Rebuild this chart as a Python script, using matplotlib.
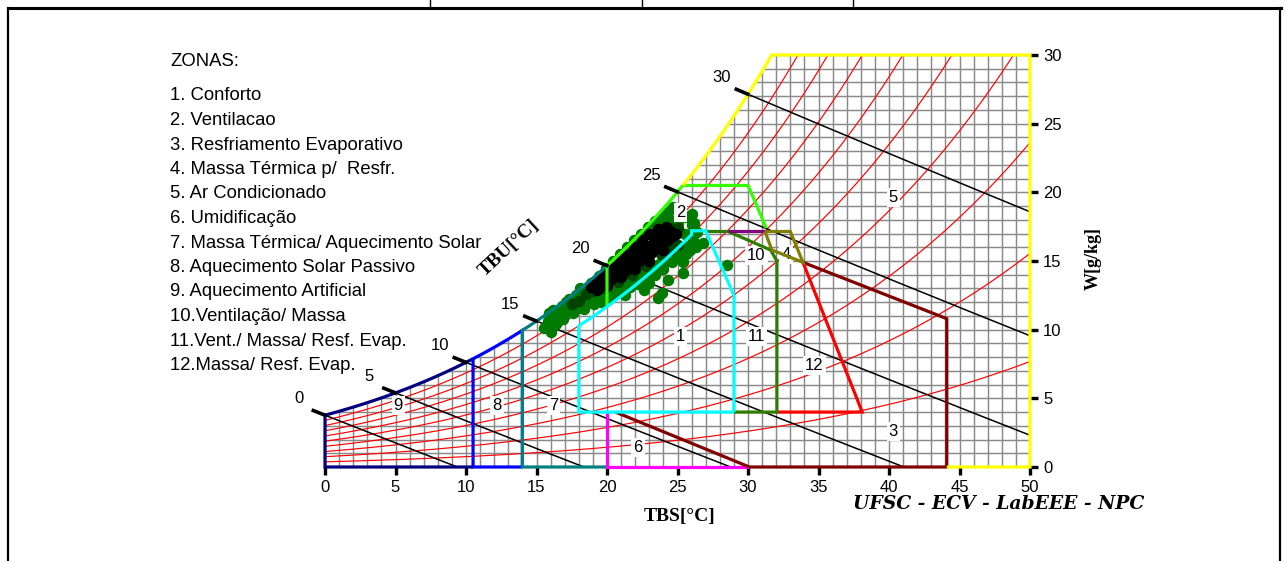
import numpy as np
import matplotlib
matplotlib.use("Agg")
import matplotlib.pyplot as plt
from matplotlib.lines import Line2D

# ---------------------------------------------------------------- data
x_ticks = [0, 5, 10, 15, 20, 25, 30, 35, 40, 45, 50]
y_ticks = [0, 5, 10, 15, 20, 25, 30]
rh_levels = [0.1, 0.2, 0.3, 0.4, 0.5, 0.6, 0.7, 0.8, 0.9]
wb_levels = [0, 5, 10, 15, 20, 25, 30]

zone_names = [
    "1. Conforto",
    "2. Ventilacao",
    "3. Resfriamento Evaporativo",
    "4. Massa Térmica p/  Resfr.",
    "5. Ar Condicionado",
    "6. Umidificação",
    "7. Massa Térmica/ Aquecimento Solar",
    "8. Aquecimento Solar Passivo",
    "9. Aquecimento Artificial",
    "10.Ventilação/ Massa",
    "11.Vent./ Massa/ Resf. Evap.",
    "12.Massa/ Resf. Evap.",
]

# zone number tags (TBS, W)
tag_text = ["1", "2", "3", "4", "5", "6", "7", "8", "9", "10", "11", "12"]
tag_t = [25.2, 25.2, 40.3, 32.7, 40.3, 22.2, 16.2, 12.2, 5.2, 30.6, 30.6, 34.7]
tag_w = [9.5, 18.5, 2.55, 15.5, 19.6, 1.4, 4.5, 4.5, 4.5, 15.4, 9.5, 7.4]

# zone boundary vertices (TBS degC, W g/kg)
z1_t = [29.0, 18.0, 18.0]
z1_w = [4.0, 4.0, 10.3]
z1_top_t = [26.0, 27.0, 29.0, 29.0]
z1_top_w = [17.2, 17.2, 12.5, 4.0]
z2_w_flat = 20.5
z2_t = [30.0, 31.3]
z2_w = [20.5, 17.4]
z3_t = [20.6, 30.1, 44.1, 44.1, 33.9]
z3_w = [4.0, 0.0, 0.0, 10.8, 14.9]
z4_t = [31.2, 31.7, 33.9, 33.0, 31.2]
z4_w = [17.15, 15.8, 14.9, 17.15, 17.15]
z6_t = [20.0, 20.0, 30.1]
z6_w = [4.0, 0.0, 0.0]
z10_t = [27.0, 28.6, 31.6, 32.05, 32.05, 29.0]
z10_w = [17.15, 17.15, 15.8, 15.0, 4.0, 4.0]
purple_t = [28.6, 31.2]
purple_w = [17.15, 17.15]
z12_t = [32.05, 38.1, 33.9]
z12_w = [4.0, 4.0, 14.9]

# measured hours (TBS, W)
green_t = [15.5, 15.8, 16.1, 16.3, 16.0, 16.6, 16.9, 17.3, 17.6, 17.1, 17.9, 18.2,
           18.4, 18.8, 18.6, 19.1, 19.4, 19.8, 20.1, 20.4, 20.7, 21.0, 21.3, 21.6,
           21.9, 22.2, 22.5, 22.8, 23.1, 23.4, 23.7, 24.0, 24.3, 24.6, 24.9, 25.2,
           25.5, 25.8, 26.1, 26.4, 26.0, 25.6, 26.0, 25.1, 24.7, 24.3, 23.9, 23.4,
           22.9, 22.4, 21.9, 21.4, 20.9, 20.4, 19.9, 19.4, 18.9, 18.3, 17.8, 17.3,
           16.8, 23.6, 23.9, 23.0, 25.4, 25.4, 25.2, 25.9, 26.8, 28.5, 24.3, 22.6,
           21.3, 26.0, 25.0, 24.5, 15.9, 16.4,
           15.7, 16.5, 17.0, 17.5, 18.0, 18.5, 19.0, 19.6, 20.2, 20.9, 21.7, 22.4,
           23.2, 24.1, 24.8, 25.6, 26.3, 24.6, 25.5, 26.2, 25.3, 23.8, 22.0, 20.0,
           17.0, 16.2, 18.1]
green_w = [10.1, 10.6, 10.2, 10.9, 9.8, 11.3, 10.8, 11.6, 11.2, 12.0, 11.8, 12.4,
           11.5, 12.2, 12.9, 11.9, 12.6, 12.3, 12.9, 12.5, 13.2, 12.8, 13.5, 13.1,
           13.8, 13.3, 14.1, 13.6, 14.4, 14.0, 14.8, 14.4, 15.2, 14.9, 15.6, 15.3,
           16.1, 15.8, 16.5, 17.1, 17.6, 18.2, 18.4, 18.8, 18.9, 18.6, 18.3, 17.9,
           17.5, 17.0, 16.5, 16.0, 15.5, 15.0, 14.5, 13.9, 13.4, 12.9, 12.5, 12.2,
           11.7, 12.3, 12.7, 13.4, 14.1, 14.9, 15.8, 15.8, 16.3, 14.7, 13.6, 12.9,
           12.5, 17.0, 17.8, 18.0, 11.2, 10.4,
           10.3, 10.6, 11.1, 11.4, 11.6, 11.9, 12.3, 12.0, 12.6, 13.0, 13.4, 13.8,
           14.2, 14.9, 15.2, 15.5, 16.0, 16.3, 17.0, 17.8, 18.4, 17.8, 14.3, 12.2,
           11.5, 11.4, 13.0]
mid_t = [17.5, 18.0, 18.5, 19.0, 19.5, 20.0, 20.5, 21.0, 21.5, 22.0, 22.5, 23.0,
         23.5, 24.0, 24.5, 25.0, 25.0, 24.5, 23.8, 22.8, 21.8, 20.8, 19.8]
mid_w = [11.9, 12.1, 12.6, 12.8, 13.4, 13.8, 14.0, 14.5, 14.8, 15.2, 15.5, 16.0,
         16.5, 16.9, 17.4, 17.4, 16.2, 15.8, 15.5, 14.6, 14.0, 13.5, 13.0]
core_t = [18.9, 19.2, 19.5, 19.6, 19.9, 20.1, 20.3, 20.5, 20.7, 20.9, 21.1, 21.3,
          21.5, 21.7, 21.9, 22.1, 22.3, 22.5, 22.7, 22.9, 23.1, 23.3, 23.5, 23.7,
          23.9, 24.1, 24.3, 24.5, 24.7, 24.9, 23.0, 22.5, 22.0, 21.5, 21.0, 20.5,
          23.6, 24.2, 20.0, 21.0, 22.0, 23.0, 24.0, 19.3]
core_w = [13.1, 13.5, 13.2, 13.9, 13.5, 14.1, 13.7, 14.4, 13.9, 14.6, 14.1, 14.9,
          14.4, 15.2, 14.7, 15.5, 15.0, 15.8, 15.3, 16.1, 15.6, 16.4, 15.9, 16.7,
          16.2, 17.0, 16.5, 17.2, 16.8, 17.0, 17.0, 16.5, 16.0, 15.5, 15.2, 14.8,
          17.3, 17.5, 13.2, 13.8, 14.4, 15.0, 15.8, 12.9]

# ---------------------------------------------------------------- psychrometrics
P_ATM = 101.325


def p_ws(t):
    return 0.61094 * np.exp(17.625 * t / (t + 243.04))


def w_rh(t, rh):
    pw = rh * p_ws(t)
    return 622.0 * pw / (P_ATM - pw)


def t_sat(w):
    pw = w * P_ATM / (622.0 + w)
    a = np.log(pw / 0.61094)
    return 243.04 * a / (17.625 - a)


def w_wetbulb(t, twb):
    ws = w_rh(twb, 1.0) / 1000.0
    return 1000.0 * ((2501 - 2.326 * twb) * ws - 1.006 * (t - twb)) / \
        (2501 + 1.86 * t - 4.186 * twb)


def sat_seg(t0, t1, n=40):
    t = np.linspace(t0, t1, n)
    return list(t), list(w_rh(t, 1.0))


# ---------------------------------------------------------------- figure
W_PX, H_PX = 1285, 561
fig = plt.figure(figsize=(W_PX / 100, H_PX / 100), dpi=100)
fig.patch.set_facecolor("white")


def fx(px):
    return px / W_PX


def fy(py):
    return 1 - py / H_PX


ax = fig.add_axes([fx(325), fy(467), fx(1030) - fx(325), fy(55) - fy(467)])
ax.set_xlim(0, 50)
ax.set_ylim(0, 30)
for s in ax.spines.values():
    s.set_visible(False)

t_top = t_sat(30.0)

# grid under the saturation curve
grid_kw = dict(color="#8a8a8a", lw=1.05, zorder=1)
for t in range(0, 51):
    ax.plot([t, t], [0, min(w_rh(t, 1.0), 30)], **grid_kw)
for w in range(0, 31):
    t0 = max(0.0, t_sat(w)) if w > 0 else 0.0
    ax.plot([t0, 50], [w, w], **grid_kw)

# relative humidity curves
tt = np.linspace(0, 50, 300)
for rh in rh_levels:
    ax.plot(tt, w_rh(tt, rh), color="red", lw=0.85, zorder=2)

# wet-bulb lines with their tags
for twb in wb_levels:
    t = np.linspace(twb, 50, 200)
    ax.plot(t, w_wetbulb(t, twb), color="black", lw=1.1, zorder=3)
    ts = np.array([twb - 0.95, twb + 0.1])
    ax.plot(ts, w_wetbulb(ts, twb), color="black", lw=2.6,
            solid_capstyle="butt", zorder=6, clip_on=False)
    ax.annotate(str(twb), (twb, w_rh(twb, 1.0)), xytext=(-19, 12),
                textcoords="offset points", ha="center", va="center",
                fontsize=12, family="Liberation Sans", zorder=7,
                annotation_clip=False)

# measured hours
mk = dict(s=68, linewidths=0, zorder=4)
ax.scatter(green_t, green_w, color="#007a00", **mk)
ax.scatter(mid_t, mid_w, color="#004400", **mk)
ax.scatter(core_t, core_w, color="#000000", **mk)

# zone numbers (boxed, beneath the zone outlines)
for s, t, w in zip(tag_text, tag_t, tag_w):
    ax.text(t, w, s, ha="center", va="center", fontsize=12,
            family="Liberation Sans", zorder=4.5,
            bbox=dict(boxstyle="square,pad=0.12", fc="white", ec="none"))

# zone outlines
LW = 2.3


def outline(t, w, color, z=5):
    ax.plot(t, w, color=color, lw=LW, zorder=z, clip_on=False,
            solid_joinstyle="miter", solid_capstyle="butt")


st, sw = sat_seg(0, 10.5)
outline([10.5, 0, 0] + st, [0, 0, sw[0]] + sw, "#000080")
st, sw = sat_seg(10.5, 14.0)
outline([14.0, 10.5] + st + [14.0], [0, 0] + sw + [0], "#0000ff")
st, sw = sat_seg(14.0, 20.0)
outline([20.0, 14.0] + st, [0, 0] + sw, "#008080")
outline(z6_t, z6_w, "#ff00ff")
outline(z3_t, z3_w, "#800000")
outline(z12_t, z12_w, "#ff0000")
outline(z10_t, z10_w, "#2f7d00")
outline(purple_t, purple_w, "#800080")
outline(z4_t, z4_w, "#808000")
st, sw = sat_seg(20.0, t_sat(z2_w_flat))
outline([20.0] + st + z2_t, [w_rh(20.0, 0.8)] + sw + z2_w, "#33ff00")
rt = list(np.linspace(18.0, 26.0, 30))
outline(z1_t + rt + z1_top_t, z1_w + list(w_rh(np.array(rt), 0.8)) + z1_top_w,
        "#00ffff")
st, sw = sat_seg(t_sat(z2_w_flat), t_top)
outline(st + [50, 50, 44.1], sw + [30, 0, 0], "#ffff00", z=5.5)

# axes ticks
ax.set_xticks(x_ticks)
ax.set_yticks(y_ticks)
ax.xaxis.set_ticks_position("bottom")
ax.yaxis.set_ticks_position("right")
ax.tick_params(axis="both", length=6, width=2.4, color="black",
               labelsize=12, pad=3.5)
for lab in ax.get_xticklabels() + ax.get_yticklabels():
    lab.set_family("Liberation Sans")

# titles
serif_b = dict(family="Liberation Serif", weight="bold")
fig.text(fx(680), fy(516), "TBS[°C]", ha="center", va="center", fontsize=14,
         **serif_b)
fig.text(fx(1093), fy(258), "W[g/kg]", ha="center", va="center", fontsize=13,
         rotation=90, **serif_b)
fig.text(fx(509), fy(248), "TBU[°C]", ha="center", va="center", fontsize=14,
         rotation=43, **serif_b)
fig.text(fx(999), fy(504), "UFSC - ECV - LabEEE - NPC", ha="center",
         va="center", fontsize=13.5, family="DejaVu Serif", weight="bold",
         style="italic")

# zone list
fig.text(fx(170), fy(62), "ZONAS:", ha="left", va="center", fontsize=13.3,
         family="Liberation Sans")
for i, name in enumerate(zone_names):
    fig.text(fx(170), fy(96 + i * 24.5), name, ha="left", va="center",
             fontsize=13.3, family="Liberation Sans")

# page frame
frame_kw = dict(color="black", transform=fig.transFigure)
fig.add_artist(Line2D([fx(8), fx(1281)], [fy(8), fy(8)], lw=2.2, **frame_kw))
fig.add_artist(Line2D([fx(8), fx(8)], [fy(8), fy(561)], lw=1.6, **frame_kw))
fig.add_artist(Line2D([fx(1280), fx(1280)], [fy(8), fy(561)], lw=1.6,
                      **frame_kw))
for px in (430, 642, 853):
    fig.add_artist(Line2D([fx(px), fx(px)], [fy(0), fy(8)], lw=1.0,
                          **frame_kw))

fig.savefig("out.png", dpi=100)
